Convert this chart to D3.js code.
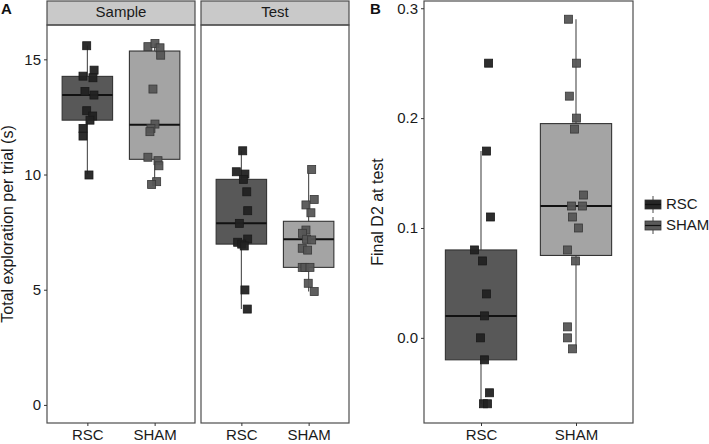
<!DOCTYPE html>
<html><head><meta charset="utf-8">
<script src="https://cdn.jsdelivr.net/npm/d3@7"></script>
<style>body{margin:0;background:#fff}svg{display:block;font-family:"Liberation Sans",Arial,sans-serif}</style>
</head><body><svg id="c" width="709" height="444"></svg>
<script>
const groups = ["RSC", "SHAM"];
const phases = ["Sample", "Test"];
const yTicksA = [0, 5, 10, 15];
const yTicksB = [0.0, 0.1, 0.2, 0.3];

// box stats: [lower whisker, Q1, median, Q3, upper whisker]
const boxSampleRSC  = [10.0, 12.36, 13.45, 14.26, 15.6];
const boxSampleSHAM = [9.57, 10.66, 12.16, 15.36, 15.69];
const boxTestRSC    = [4.16, 6.98, 7.88, 9.79, 11.03];
const boxTestSHAM   = [4.92, 5.97, 7.19, 7.97, 10.22];
const boxD2RSC      = [-0.06, -0.02, 0.02, 0.08, 0.17];
const boxD2SHAM     = [-0.01, 0.075, 0.12, 0.195, 0.29];

// individual animals (values) and horizontal jitter (fraction of category step)
const ptsSampleRSC  = [15.59, 14.53, 14.27, 14.2, 13.6, 13.45, 12.77, 12.54, 12.36, 12.0, 11.67, 9.98];
const jitSampleRSC  = [-0.01, 0.10, -0.065, 0.083, -0.036, 0.098, -0.01, 0.079, 0.039, -0.065, -0.065, 0.024];
const ptsSampleSHAM = [15.55, 15.69, 15.5, 15.18, 13.71, 12.19, 12.0, 11.86, 10.75, 10.6, 10.38, 9.69, 9.57];
const jitSampleSHAM = [-0.1, 0.005, 0.08, 0.09, -0.025, 0.005, -0.055, -0.07, -0.1, 0.05, 0.064, 0.03, -0.045];
const ptsTestRSC    = [11.03, 10.12, 10.02, 9.79, 9.25, 8.43, 7.88, 7.2, 7.06, 6.98, 6.9, 4.99, 4.16];
const jitTestRSC    = [0.02, -0.075, 0.053, 0.03, 0.08, 0.094, -0.03, 0.094, -0.055, 0.005, 0.043, 0.053, 0.088];
const ptsTestSHAM   = [10.22, 8.92, 8.68, 8.34, 7.59, 7.45, 7.19, 7.16, 6.8, 6.72, 5.97, 5.97, 5.97, 5.28, 4.92];
const jitTestSHAM   = [0.045, 0.083, -0.04, 0.034, -0.04, -0.09, -0.03, 0.045, -0.095, -0.015, -0.095, -0.055, 0.02, -0.006, 0.083];
const ptsD2RSC      = [0.25, 0.17, 0.11, 0.08, 0.07, 0.04, 0.02, 0.0, -0.02, -0.05, -0.06, -0.06];
const jitD2RSC      = [0.08, 0.058, 0.1, -0.068, 0.016, 0.058, 0.037, -0.005, 0.037, 0.09, 0.026, 0.068];
const ptsD2SHAM     = [0.29, 0.25, 0.22, 0.20, 0.19, 0.13, 0.12, 0.12, 0.11, 0.10, 0.08, 0.07, 0.01, 0.0, -0.01];
const jitD2SHAM     = [-0.08, 0.005, -0.07, 0.005, -0.015, 0.08, -0.047, 0.068, -0.037, 0.026, -0.09, -0.005, -0.09, -0.09, -0.037];

const boxFill = {RSC: "#585858", SHAM: "#a4a4a4"};
const ptFill  = {RSC: "#222222", SHAM: "#565656"};
const ptStroke = {RSC: "#1a1a1a", SHAM: "#383838"};
const legFill = {RSC: "#262626", SHAM: "#5a5a5a"};

const svg = d3.select("#c");
const txt = "#1a1a1a", border = "#4d4d4d";
const FS = 15, FT = 16;

function drawGroup(g, x, y, grp, box, pts, jit) {
  const cx = x(grp), w = x.step() * 0.75;
  g.append("line").attr("x1", cx).attr("x2", cx)
    .attr("y1", y(box[0])).attr("y2", y(box[4]))
    .attr("stroke", "#4a4a4a").attr("stroke-width", 1.1);
  g.append("rect").attr("x", cx - w / 2).attr("width", w)
    .attr("y", y(box[3])).attr("height", y(box[1]) - y(box[3]))
    .attr("fill", boxFill[grp]).attr("stroke", "#333").attr("stroke-width", 1.1);
  g.append("line").attr("x1", cx - w / 2).attr("x2", cx + w / 2)
    .attr("y1", y(box[2])).attr("y2", y(box[2]))
    .attr("stroke", "#111").attr("stroke-width", 2);
  const s = 8;
  g.selectAll(null).data(pts.map((v, i) => ({v, j: jit[i]}))).join("rect")
    .attr("x", d => cx + d.j * x.step() - s / 2)
    .attr("y", d => y(d.v) - s / 2)
    .attr("width", s).attr("height", s)
    .attr("fill", ptFill[grp]).attr("fill-opacity", 0.95)
    .attr("stroke", ptStroke[grp]).attr("stroke-width", 0.8);
}

function panelFrame(x0, x1, y0, y1) {
  svg.append("rect").attr("x", x0).attr("y", y0).attr("width", x1 - x0).attr("height", y1 - y0)
    .attr("fill", "none").attr("stroke", border).attr("stroke-width", 1.2);
}

function xAxis(x, yPos) {
  const a = svg.append("g").attr("transform", `translate(0,${yPos})`)
    .call(d3.axisBottom(x).tickSize(3).tickPadding(3));
  a.select(".domain").remove();
  a.selectAll("line").attr("stroke", "#333");
  a.selectAll("text").attr("font-size", FS).attr("fill", txt).attr("font-family", "Liberation Sans, Arial, sans-serif");
}
function yAxis(y, xPos, ticks, fmt) {
  const a = svg.append("g").attr("transform", `translate(${xPos},0)`)
    .call(d3.axisLeft(y).tickValues(ticks).tickFormat(fmt).tickSize(3).tickPadding(3));
  a.select(".domain").remove();
  a.selectAll("line").attr("stroke", "#333");
  a.selectAll("text").attr("font-size", FS).attr("fill", txt).attr("font-family", "Liberation Sans, Arial, sans-serif");
}

// ---------- Panel A ----------
const aTop = 25, aBot = 423;
const yA = d3.scaleLinear().domain([-0.785, 16.49]).range([aBot, aTop]);
const facets = [
  {name: phases[0], x0: 47, x1: 195, boxes: [boxSampleRSC, boxSampleSHAM], pts: [ptsSampleRSC, ptsSampleSHAM], jit: [jitSampleRSC, jitSampleSHAM]},
  {name: phases[1], x0: 201, x1: 349, boxes: [boxTestRSC, boxTestSHAM], pts: [ptsTestRSC, ptsTestSHAM], jit: [jitTestRSC, jitTestSHAM]}
];
facets.forEach(f => {
  const x = d3.scalePoint().domain(groups).range([f.x0, f.x1]).padding(0.6);
  svg.append("rect").attr("x", f.x0).attr("y", 1).attr("width", f.x1 - f.x0).attr("height", aTop - 1)
    .attr("fill", "#c9c9c9").attr("stroke", border).attr("stroke-width", 1.2);
  svg.append("text").attr("x", (f.x0 + f.x1) / 2).attr("y", 13.5).attr("text-anchor", "middle")
    .attr("dominant-baseline", "middle").attr("font-size", 15).attr("fill", txt).text(f.name);
  const g = svg.append("g");
  groups.forEach((grp, i) => drawGroup(g, x, yA, grp, f.boxes[i], f.pts[i], f.jit[i]));
  panelFrame(f.x0, f.x1, aTop, aBot);
  xAxis(x, aBot);
});
yAxis(yA, 47, yTicksA, d3.format("d"));
svg.append("text").attr("transform", `translate(9,${(aTop + aBot) / 2}) rotate(-90)`)
  .attr("text-anchor", "middle").attr("dominant-baseline", "middle")
  .attr("font-size", FT).attr("fill", txt).text("Total exploration per trial (s)");
svg.append("text").attr("x", 1).attr("y", 14).attr("font-size", 15).attr("font-weight", "bold").attr("fill", "#111").text("A");

// ---------- Panel B ----------
const bTop = 1, bBot = 423, bx0 = 424, bx1 = 633;
const yB = d3.scaleLinear().domain([-0.0775, 0.3075]).range([bBot, 0]);
const xB = d3.scalePoint().domain(groups).range([bx0, bx1]).padding(0.6);
const gB = svg.append("g");
drawGroup(gB, xB, yB, "RSC", boxD2RSC, ptsD2RSC, jitD2RSC);
drawGroup(gB, xB, yB, "SHAM", boxD2SHAM, ptsD2SHAM, jitD2SHAM);
panelFrame(bx0, bx1, bTop, bBot);
xAxis(xB, bBot);
yAxis(yB, bx0, yTicksB, d3.format(".1f"));
svg.append("text").attr("transform", `translate(379,${(bTop + bBot) / 2}) rotate(-90)`)
  .attr("text-anchor", "middle").attr("dominant-baseline", "middle")
  .attr("font-size", FT).attr("fill", txt).text("Final D2 at test");
svg.append("text").attr("x", 370).attr("y", 14).attr("font-size", 15).attr("font-weight", "bold").attr("fill", "#111").text("B");

// ---------- Legend ----------
const leg = svg.append("g");
groups.forEach((grp, i) => {
  const ly = 196 + i * 21;
  const kx = 645;
  leg.append("line").attr("x1", kx + 8).attr("x2", kx + 8).attr("y1", ly).attr("y2", ly + 17)
    .attr("stroke", "#4a4a4a").attr("stroke-width", 1);
  leg.append("rect").attr("x", kx).attr("y", ly + 4).attr("width", 16).attr("height", 9)
    .attr("fill", legFill[grp]).attr("stroke", "#333").attr("stroke-width", 0.8);
  leg.append("line").attr("x1", kx).attr("x2", kx + 16).attr("y1", ly + 8.5).attr("y2", ly + 8.5)
    .attr("stroke", "#111").attr("stroke-width", 1.2);
  leg.append("text").attr("x", kx + 21).attr("y", ly + 9).attr("dominant-baseline", "middle")
    .attr("font-size", FS).attr("fill", txt).text(grp);
});
</script></body></html>
